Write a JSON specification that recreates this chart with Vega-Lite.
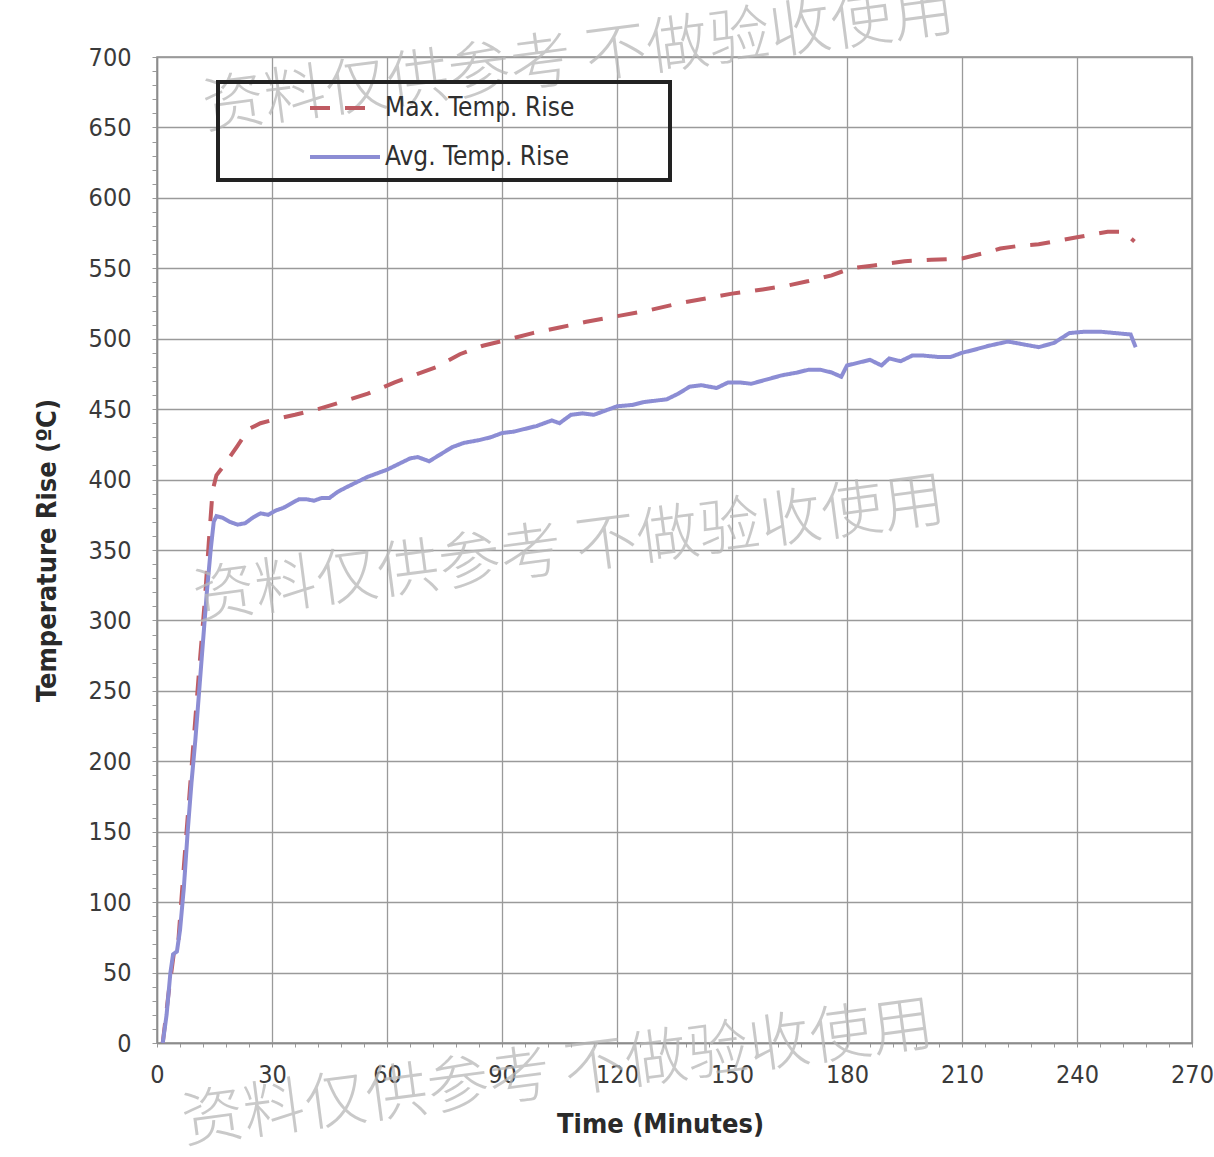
{
  "$schema": "https://vega.github.io/schema/vega-lite/v6.json",
  "width": 1035,
  "height": 986,
  "autosize": {"type": "none"},
  "padding": {"left": 157, "top": 57, "right": 22, "bottom": 114},
  "background": "white",
  "config": {
    "view": {"stroke": "#8c8c8c", "strokeWidth": 1.5},
    "font": "DejaVu Sans Condensed",
    "axis": {
      "labelFont": "DejaVu Sans Condensed",
      "titleFont": "DejaVu Sans Condensed",
      "labelColor": "#3a3a3a",
      "titleColor": "#2a2a2a",
      "labelFontSize": 25,
      "titleFontSize": 27,
      "titleFontWeight": "bold",
      "domainColor": "#8c8c8c",
      "domainWidth": 1.5,
      "gridColor": "#9a9a9a",
      "gridWidth": 1.3,
      "tickColor": "#9a9a9a"
    },
    "legend": {
      "labelFont": "DejaVu Sans Condensed",
      "labelFontSize": 26,
      "labelColor": "#2f2f2f",
      "strokeWidth": 4
    }
  },
  "datasets": {
    "temps": [
      {"series": "Max. Temp. Rise", "t": 1.5, "v": 0},
      {"series": "Max. Temp. Rise", "t": 3, "v": 35},
      {"series": "Max. Temp. Rise", "t": 4.5, "v": 66},
      {"series": "Max. Temp. Rise", "t": 5.5, "v": 70},
      {"series": "Max. Temp. Rise", "t": 7, "v": 125},
      {"series": "Max. Temp. Rise", "t": 9, "v": 195},
      {"series": "Max. Temp. Rise", "t": 11, "v": 265},
      {"series": "Max. Temp. Rise", "t": 12.5, "v": 315},
      {"series": "Max. Temp. Rise", "t": 13.5, "v": 355},
      {"series": "Max. Temp. Rise", "t": 14.5, "v": 392},
      {"series": "Max. Temp. Rise", "t": 15.5, "v": 403},
      {"series": "Max. Temp. Rise", "t": 18, "v": 412},
      {"series": "Max. Temp. Rise", "t": 21, "v": 424},
      {"series": "Max. Temp. Rise", "t": 24, "v": 436},
      {"series": "Max. Temp. Rise", "t": 27, "v": 440},
      {"series": "Max. Temp. Rise", "t": 31, "v": 443},
      {"series": "Max. Temp. Rise", "t": 36, "v": 446},
      {"series": "Max. Temp. Rise", "t": 42, "v": 450},
      {"series": "Max. Temp. Rise", "t": 48, "v": 455},
      {"series": "Max. Temp. Rise", "t": 55, "v": 461},
      {"series": "Max. Temp. Rise", "t": 62, "v": 469},
      {"series": "Max. Temp. Rise", "t": 68, "v": 475},
      {"series": "Max. Temp. Rise", "t": 73, "v": 480},
      {"series": "Max. Temp. Rise", "t": 79, "v": 489},
      {"series": "Max. Temp. Rise", "t": 85, "v": 495},
      {"series": "Max. Temp. Rise", "t": 91, "v": 499},
      {"series": "Max. Temp. Rise", "t": 98, "v": 504},
      {"series": "Max. Temp. Rise", "t": 105, "v": 508},
      {"series": "Max. Temp. Rise", "t": 112, "v": 512},
      {"series": "Max. Temp. Rise", "t": 120, "v": 516},
      {"series": "Max. Temp. Rise", "t": 128, "v": 520},
      {"series": "Max. Temp. Rise", "t": 136, "v": 525},
      {"series": "Max. Temp. Rise", "t": 142, "v": 528},
      {"series": "Max. Temp. Rise", "t": 150, "v": 532},
      {"series": "Max. Temp. Rise", "t": 158, "v": 535},
      {"series": "Max. Temp. Rise", "t": 165, "v": 538},
      {"series": "Max. Temp. Rise", "t": 170, "v": 541},
      {"series": "Max. Temp. Rise", "t": 176, "v": 545},
      {"series": "Max. Temp. Rise", "t": 181, "v": 550},
      {"series": "Max. Temp. Rise", "t": 187, "v": 552},
      {"series": "Max. Temp. Rise", "t": 195, "v": 555},
      {"series": "Max. Temp. Rise", "t": 202, "v": 556},
      {"series": "Max. Temp. Rise", "t": 210, "v": 557},
      {"series": "Max. Temp. Rise", "t": 216, "v": 561},
      {"series": "Max. Temp. Rise", "t": 220, "v": 564},
      {"series": "Max. Temp. Rise", "t": 225, "v": 566},
      {"series": "Max. Temp. Rise", "t": 230, "v": 567},
      {"series": "Max. Temp. Rise", "t": 236, "v": 570},
      {"series": "Max. Temp. Rise", "t": 240, "v": 572},
      {"series": "Max. Temp. Rise", "t": 244, "v": 574},
      {"series": "Max. Temp. Rise", "t": 248, "v": 576},
      {"series": "Max. Temp. Rise", "t": 252, "v": 576},
      {"series": "Max. Temp. Rise", "t": 255, "v": 569},
      {"series": "Avg. Temp. Rise", "t": 1.5, "v": 0},
      {"series": "Avg. Temp. Rise", "t": 2.5, "v": 20},
      {"series": "Avg. Temp. Rise", "t": 3.5, "v": 50},
      {"series": "Avg. Temp. Rise", "t": 4.2, "v": 63},
      {"series": "Avg. Temp. Rise", "t": 5.2, "v": 65},
      {"series": "Avg. Temp. Rise", "t": 6, "v": 80},
      {"series": "Avg. Temp. Rise", "t": 7, "v": 110},
      {"series": "Avg. Temp. Rise", "t": 8, "v": 150},
      {"series": "Avg. Temp. Rise", "t": 9, "v": 185},
      {"series": "Avg. Temp. Rise", "t": 10, "v": 215},
      {"series": "Avg. Temp. Rise", "t": 11, "v": 250},
      {"series": "Avg. Temp. Rise", "t": 12, "v": 285},
      {"series": "Avg. Temp. Rise", "t": 13, "v": 320},
      {"series": "Avg. Temp. Rise", "t": 14, "v": 350},
      {"series": "Avg. Temp. Rise", "t": 14.8, "v": 370},
      {"series": "Avg. Temp. Rise", "t": 15.5, "v": 374},
      {"series": "Avg. Temp. Rise", "t": 17, "v": 373},
      {"series": "Avg. Temp. Rise", "t": 19, "v": 370},
      {"series": "Avg. Temp. Rise", "t": 21, "v": 368},
      {"series": "Avg. Temp. Rise", "t": 23, "v": 369},
      {"series": "Avg. Temp. Rise", "t": 25, "v": 373},
      {"series": "Avg. Temp. Rise", "t": 27, "v": 376},
      {"series": "Avg. Temp. Rise", "t": 29, "v": 375},
      {"series": "Avg. Temp. Rise", "t": 31, "v": 378},
      {"series": "Avg. Temp. Rise", "t": 33, "v": 380},
      {"series": "Avg. Temp. Rise", "t": 35, "v": 383},
      {"series": "Avg. Temp. Rise", "t": 37, "v": 386},
      {"series": "Avg. Temp. Rise", "t": 39, "v": 386},
      {"series": "Avg. Temp. Rise", "t": 41, "v": 385},
      {"series": "Avg. Temp. Rise", "t": 43, "v": 387},
      {"series": "Avg. Temp. Rise", "t": 45, "v": 387},
      {"series": "Avg. Temp. Rise", "t": 47, "v": 391},
      {"series": "Avg. Temp. Rise", "t": 49, "v": 394},
      {"series": "Avg. Temp. Rise", "t": 52, "v": 398},
      {"series": "Avg. Temp. Rise", "t": 55, "v": 402},
      {"series": "Avg. Temp. Rise", "t": 58, "v": 405},
      {"series": "Avg. Temp. Rise", "t": 60, "v": 407},
      {"series": "Avg. Temp. Rise", "t": 63, "v": 411},
      {"series": "Avg. Temp. Rise", "t": 66, "v": 415},
      {"series": "Avg. Temp. Rise", "t": 68, "v": 416},
      {"series": "Avg. Temp. Rise", "t": 71, "v": 413},
      {"series": "Avg. Temp. Rise", "t": 74, "v": 418},
      {"series": "Avg. Temp. Rise", "t": 77, "v": 423},
      {"series": "Avg. Temp. Rise", "t": 80, "v": 426},
      {"series": "Avg. Temp. Rise", "t": 84, "v": 428},
      {"series": "Avg. Temp. Rise", "t": 87, "v": 430},
      {"series": "Avg. Temp. Rise", "t": 90, "v": 433},
      {"series": "Avg. Temp. Rise", "t": 93, "v": 434},
      {"series": "Avg. Temp. Rise", "t": 96, "v": 436},
      {"series": "Avg. Temp. Rise", "t": 99, "v": 438},
      {"series": "Avg. Temp. Rise", "t": 103, "v": 442},
      {"series": "Avg. Temp. Rise", "t": 105, "v": 440},
      {"series": "Avg. Temp. Rise", "t": 108, "v": 446},
      {"series": "Avg. Temp. Rise", "t": 111, "v": 447},
      {"series": "Avg. Temp. Rise", "t": 114, "v": 446},
      {"series": "Avg. Temp. Rise", "t": 117, "v": 449},
      {"series": "Avg. Temp. Rise", "t": 120, "v": 452},
      {"series": "Avg. Temp. Rise", "t": 124, "v": 453},
      {"series": "Avg. Temp. Rise", "t": 127, "v": 455},
      {"series": "Avg. Temp. Rise", "t": 130, "v": 456},
      {"series": "Avg. Temp. Rise", "t": 133, "v": 457},
      {"series": "Avg. Temp. Rise", "t": 136, "v": 461},
      {"series": "Avg. Temp. Rise", "t": 139, "v": 466},
      {"series": "Avg. Temp. Rise", "t": 142, "v": 467},
      {"series": "Avg. Temp. Rise", "t": 146, "v": 465},
      {"series": "Avg. Temp. Rise", "t": 149, "v": 469},
      {"series": "Avg. Temp. Rise", "t": 152, "v": 469},
      {"series": "Avg. Temp. Rise", "t": 155, "v": 468},
      {"series": "Avg. Temp. Rise", "t": 159, "v": 471},
      {"series": "Avg. Temp. Rise", "t": 163, "v": 474},
      {"series": "Avg. Temp. Rise", "t": 167, "v": 476},
      {"series": "Avg. Temp. Rise", "t": 170, "v": 478},
      {"series": "Avg. Temp. Rise", "t": 173, "v": 478},
      {"series": "Avg. Temp. Rise", "t": 176, "v": 476},
      {"series": "Avg. Temp. Rise", "t": 178.5, "v": 473},
      {"series": "Avg. Temp. Rise", "t": 180, "v": 481},
      {"series": "Avg. Temp. Rise", "t": 183, "v": 483},
      {"series": "Avg. Temp. Rise", "t": 186, "v": 485},
      {"series": "Avg. Temp. Rise", "t": 189, "v": 481},
      {"series": "Avg. Temp. Rise", "t": 191, "v": 486},
      {"series": "Avg. Temp. Rise", "t": 194, "v": 484},
      {"series": "Avg. Temp. Rise", "t": 197, "v": 488},
      {"series": "Avg. Temp. Rise", "t": 200, "v": 488},
      {"series": "Avg. Temp. Rise", "t": 204, "v": 487},
      {"series": "Avg. Temp. Rise", "t": 207, "v": 487},
      {"series": "Avg. Temp. Rise", "t": 210, "v": 490},
      {"series": "Avg. Temp. Rise", "t": 213, "v": 492},
      {"series": "Avg. Temp. Rise", "t": 217, "v": 495},
      {"series": "Avg. Temp. Rise", "t": 222, "v": 498},
      {"series": "Avg. Temp. Rise", "t": 226, "v": 496},
      {"series": "Avg. Temp. Rise", "t": 230, "v": 494},
      {"series": "Avg. Temp. Rise", "t": 234, "v": 497},
      {"series": "Avg. Temp. Rise", "t": 238, "v": 504},
      {"series": "Avg. Temp. Rise", "t": 242, "v": 505},
      {"series": "Avg. Temp. Rise", "t": 246, "v": 505},
      {"series": "Avg. Temp. Rise", "t": 250, "v": 504},
      {"series": "Avg. Temp. Rise", "t": 254, "v": 503},
      {"series": "Avg. Temp. Rise", "t": 255.3, "v": 494}
    ],
    "watermark": [
      {"t": 110, "v": 698, "text": "资料仅供参考 不做验收使用"},
      {"t": 107.5, "v": 350, "text": "资料仅供参考 不做验收使用"},
      {"t": 104.5, "v": -22, "text": "资料仅供参考 不做验收使用"}
    ]
  },
  "layer": [
    {
      "data": {"name": "temps"},
      "mark": {"type": "line", "strokeWidth": 4, "strokeCap": "butt", "interpolate": "linear"},
      "encoding": {
        "x": {
          "field": "t",
          "type": "quantitative",
          "scale": {"domain": [0, 270], "nice": false, "zero": false},
          "axis": {
            "title": "Time (Minutes)",
            "values": [0, 6, 12, 18, 24, 30, 36, 42, 48, 54, 60, 66, 72, 78, 84, 90, 96, 102, 108, 114, 120, 126, 132, 138, 144, 150, 156, 162, 168, 174, 180, 186, 192, 198, 204, 210, 216, 222, 228, 234, 240, 246, 252, 258, 264, 270],
            "tickCount": 1000,
            "format": "d",
            "labelExpr": "datum.value % 30 === 0 ? datum.label : ''",
            "gridOpacity": {"condition": {"test": "datum.value % 30 === 0", "value": 1}, "value": 0},
            "tickSize": 4,
            "labelPadding": 15,
            "labelFlush": false,
            "labelOverlap": false,
            "titlePadding": 24,
            "titleX": 503
          }
        },
        "y": {
          "field": "v",
          "type": "quantitative",
          "scale": {"domain": [0, 700], "nice": false, "zero": false},
          "axis": {
            "title": "Temperature Rise (ºC)",
            "values": [0, 10, 20, 30, 40, 50, 60, 70, 80, 90, 100, 110, 120, 130, 140, 150, 160, 170, 180, 190, 200, 210, 220, 230, 240, 250, 260, 270, 280, 290, 300, 310, 320, 330, 340, 350, 360, 370, 380, 390, 400, 410, 420, 430, 440, 450, 460, 470, 480, 490, 500, 510, 520, 530, 540, 550, 560, 570, 580, 590, 600, 610, 620, 630, 640, 650, 660, 670, 680, 690, 700],
            "tickCount": 1000,
            "format": "d",
            "labelExpr": "datum.value % 50 === 0 ? datum.label : ''",
            "gridOpacity": {"condition": {"test": "datum.value % 50 === 0", "value": 1}, "value": 0},
            "tickSize": 5,
            "labelPadding": 21,
            "labelFlush": false,
            "labelOverlap": false,
            "titlePadding": 27
          }
        },
        "color": {
          "field": "series",
          "type": "nominal",
          "scale": {"domain": ["Max. Temp. Rise", "Avg. Temp. Rise"], "range": ["#bf5b62", "#8c8dd4"]},
          "legend": {
            "title": " ",
            "titleOrient": "right",
            "titlePadding": 86,
            "titleFontSize": 10,
            "orient": "none",
            "legendX": 61,
            "legendY": 25,
            "strokeColor": "#222222",
            "padding": 10,
            "symbolType": "M-2.5,0H2.5",
            "symbolSize": 784,
            "symbolStrokeWidth": 4,
            "symbolOffset": 101,
            "labelOffset": 24,
            "rowPadding": 20,
            "labelLimit": 600
          }
        },
        "strokeDash": {
          "field": "series",
          "type": "nominal",
          "scale": {"domain": ["Max. Temp. Rise", "Avg. Temp. Rise"], "range": [[20, 15], [1, 0]]},
          "legend": null
        }
      }
    },
    {
      "data": {"name": "watermark"},
      "mark": {"type": "text", "font": "Noto Sans CJK SC", "fontSize": 62, "fontWeight": 300, "angle": -7.5, "color": "#b8b8b8", "opacity": 0.75, "align": "center", "baseline": "middle"},
      "encoding": {
        "x": {"field": "t", "type": "quantitative"},
        "y": {"field": "v", "type": "quantitative"},
        "text": {"field": "text"}
      }
    }
  ]
}
